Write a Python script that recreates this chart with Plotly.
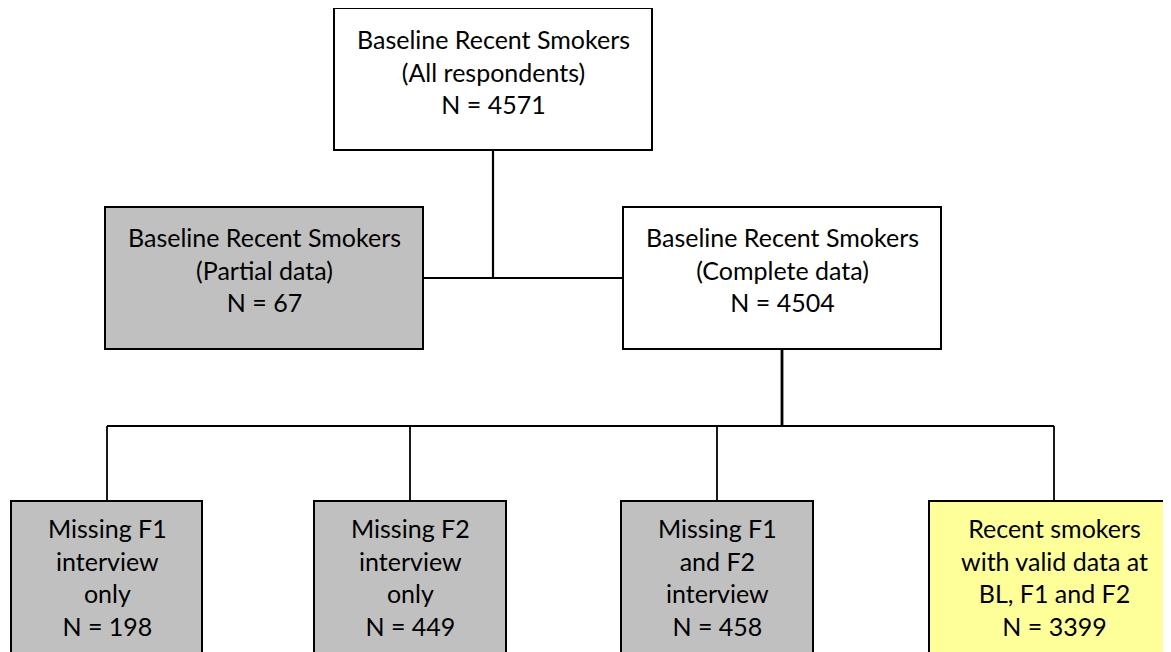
import plotly.graph_objects as go

# ---- data ----
node_titles = [
    "Baseline Recent Smokers<br>(All respondents)",
    "Baseline Recent Smokers<br>(Partial data)",
    "Baseline Recent Smokers<br>(Complete data)",
    "Missing F1<br>interview<br>only",
    "Missing F2<br>interview<br>only",
    "Missing F1<br>and F2<br>interview",
    "Recent smokers<br>with valid data at<br>BL, F1 and F2",
]
node_counts = [4571, 67, 4504, 198, 449, 458, 3399]
node_kind = ["total", "excluded", "kept", "excluded", "excluded", "excluded", "final"]

# ---- layout (pixel space of the page, y downward) ----
W, H = 1171, 652
PAGE_MARGIN = 8  # default body margin of the html page
boxes = [  # x0, y0, x1, y1
    (334, 8, 652, 150),
    (105, 207, 423, 349),
    (623, 207, 941, 349),
    (11, 501, 202, 655),
    (314, 501, 506, 655),
    (621, 501, 813, 655),
    (929, 501, 1179, 655),
]
text_x = [493, 264, 782, 107, 410, 717, 1054]
text_y = [71, 269, 269, 577, 577, 577, 577]
fills = {"total": "#FFFFFF", "kept": "#FFFFFF", "excluded": "#C0C0C0", "final": "#FFFF99"}

connectors = [  # x0, y0, x1, y1, width
    (493, 150, 493, 278, 2.2),
    (423, 278, 623, 278, 2),
    (782, 349, 782, 426, 2.8),
    (107, 426, 1054, 426, 2),
    (107, 426, 107, 501, 1.8),
    (410, 426, 410, 501, 1.8),
    (717, 426, 717, 501, 1.8),
    (1054, 426, 1054, 501, 1.8),
]

fig = go.Figure()
fig.add_trace(go.Scatter(x=[PAGE_MARGIN, W], y=[PAGE_MARGIN, H], mode="markers",
                         marker=dict(opacity=0), hoverinfo="skip", showlegend=False))

shapes = []
for (x0, y0, x1, y1, w) in connectors:
    shapes.append(dict(type="line", x0=x0, y0=y0, x1=x1, y1=y1, xref="x", yref="y",
                       line=dict(color="black", width=w), layer="below"))
for (x0, y0, x1, y1), kind in zip(boxes, node_kind):
    shapes.append(dict(type="rect", x0=x0, y0=y0, x1=x1, y1=y1, xref="x", yref="y",
                       fillcolor=fills[kind], line=dict(color="black", width=2), layer="above"))

annotations = []
for cx, ty, title, n in zip(text_x, text_y, node_titles, node_counts):
    annotations.append(dict(x=cx, y=ty, xref="x", yref="y",
                            text=f"{title}<br>N = {n}", showarrow=False,
                            xanchor="center", yanchor="middle", align="center",
                            font=dict(family="Lato", size=25, color="black")))

fig.update_layout(
    width=W - PAGE_MARGIN, height=H - PAGE_MARGIN, margin=dict(l=0, r=0, t=0, b=0),
    paper_bgcolor="white", plot_bgcolor="white",
    xaxis=dict(range=[PAGE_MARGIN, W], visible=False, fixedrange=True),
    yaxis=dict(range=[H, PAGE_MARGIN], visible=False, fixedrange=True),
    shapes=shapes, annotations=annotations, showlegend=False,
)
fig.write_html("out.html")
